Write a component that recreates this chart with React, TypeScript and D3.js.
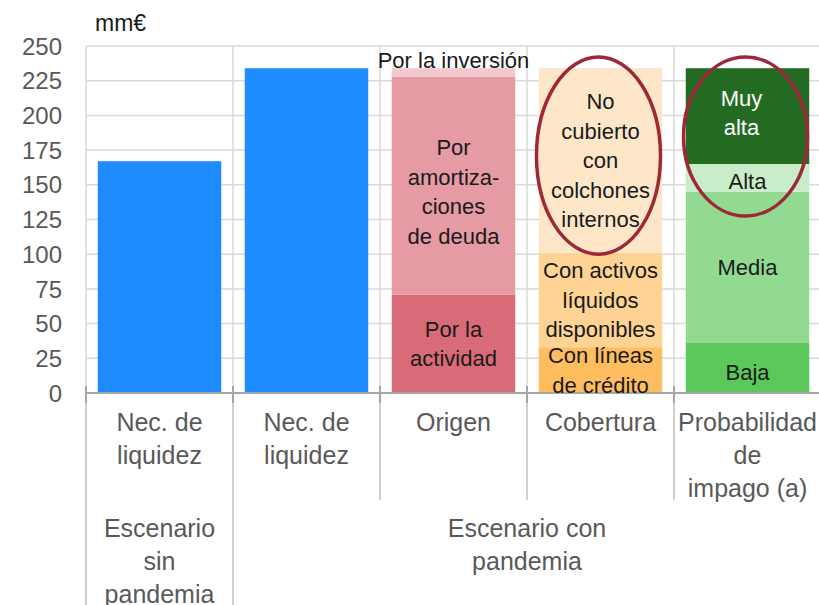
import React from "react";
import * as d3 from "d3";

// ---------- data ----------
const categoryKeys = ["sinPandemia", "conPandemia", "origen", "cobertura", "probabilidad"];
const categoryLabels = [
  ["Nec. de", "liquidez"],
  ["Nec. de", "liquidez"],
  ["Origen"],
  ["Cobertura"],
  ["Probabilidad", "de", "impago (a)"],
];
const necesidadKeys = ["sinPandemia", "conPandemia"];
const necesidadValues = [167, 234];

const origenNames = ["Por la actividad", "Por amortizaciones de deuda", "Por la inversión"];
const origenValues = [71, 157, 6];

const coberturaNames = ["Con líneas de crédito", "Con activos líquidos disponibles", "No cubierto con colchones internos"];
const coberturaValues = [33, 68, 133];

const probabilidadNames = ["Baja", "Media", "Alta", "Muy alta"];
const probabilidadValues = [36, 109, 20, 69];

const groupLabels = [["Escenario", "sin", "pandemia"], ["Escenario con", "pandemia"]];
const yTicks = [0, 25, 50, 75, 100, 125, 150, 175, 200, 225, 250];
const unitLabel = "mm€";

// highlighted ranges (value units) per category
const highlightCats = ["cobertura", "probabilidad"];
const highlightRanges = [[100, 242], [127.5, 242]];

// ---------- styles ----------
const FONT = "'Liberation Sans', Arial, Helvetica, sans-serif";
const BLUE = "#1E8BFF";
const origenColors = ["#D96A78", "#E59AA4", "#F3C8CE"];
const coberturaColors = ["#FEBE5F", "#FED394", "#FEE6C9"];
const probabilidadColors = ["#5AC85A", "#92DA92", "#C9EDC9", "#236B23"];
const origenLines = [["Por la", "actividad"], ["Por", "amortiza-", "ciones", "de deuda"], ["Por la inversión"]];
const coberturaLines = [["Con líneas", "de crédito"], ["Con activos", "líquidos", "disponibles"], ["No", "cubierto", "con", "colchones", "internos"]];
const probabilidadLines = [["Baja"], ["Media"], ["Alta"], ["Muy", "alta"]];

const W = 819;
const H = 605;
const LEFT = 86;
const STEP = 147;
const TOP = 46;
const BOTTOM = 393;

export default function App() {
  const x = d3
    .scaleBand<string>()
    .domain(categoryKeys)
    .range([LEFT, LEFT + STEP * categoryKeys.length])
    .paddingInner(0.16)
    .paddingOuter(0.08);
  const step = x.step();
  const y = d3.scaleLinear().domain([0, 250]).range([BOTTOM, TOP]);

  const bandStart = (k: string) => (x(k) as number) - x.paddingInner() * step / 2;
  const boundaries = d3.range(categoryKeys.length + 1).map((i) => x.range()[0] + i * step);

  const stackOf = (names: string[], values: number[]) => {
    const row: Record<string, number> = {};
    names.forEach((n, i) => (row[n] = values[i]));
    return d3.stack<Record<string, number>>().keys(names)([row]).map((s) => s[0]);
  };

  const stacked = [
    { key: "origen", segs: stackOf(origenNames, origenValues), colors: origenColors, lines: origenLines },
    { key: "cobertura", segs: stackOf(coberturaNames, coberturaValues), colors: coberturaColors, lines: coberturaLines },
    { key: "probabilidad", segs: stackOf(probabilidadNames, probabilidadValues), colors: probabilidadColors, lines: probabilidadLines },
  ];

  const LH = 29.5;
  const labelFont = 22;

  return (
    <svg
      width={W}
      height={H}
      style={{ position: "absolute", left: 0, top: 0, display: "block", background: "#fff" }}
      fontFamily={FONT}
    >
      {/* gridlines */}
      {yTicks.map((t) => (
        <line key={"h" + t} x1={boundaries[0]} x2={boundaries[boundaries.length - 1]} y1={y(t)} y2={y(t)} stroke="#D9D9D9" strokeWidth={1.5} />
      ))}
      {boundaries.map((b, i) => (
        <line key={"v" + i} x1={b} x2={b} y1={y(250)} y2={y(0)} stroke="#D9D9D9" strokeWidth={1.5} />
      ))}
      {/* below-axis dividers */}
      {boundaries.slice(0, 5).map((b, i) => (
        <line key={"vb" + i} x1={b} x2={b} y1={y(0)} y2={i < 2 ? H : 500} stroke="#BFBFBF" strokeWidth={1.5} />
      ))}

      {/* tick labels */}
      {yTicks.map((t) => (
        <text key={"t" + t} x={62} y={y(t)} dy="0.36em" textAnchor="end" fontSize={24} fill="#595959">
          {t}
        </text>
      ))}
      <text x={95} y={31} fontSize={23} fill="#1a1a1a">{unitLabel}</text>

      {/* simple bars */}
      {necesidadKeys.map((k, i) => (
        <rect key={k} x={x(k)} y={y(necesidadValues[i])} width={x.bandwidth()} height={y(0) - y(necesidadValues[i])} fill={BLUE} />
      ))}

      {/* stacked bars */}
      {stacked.map((st) =>
        st.segs.map((s, i) => (
          <rect
            key={st.key + i}
            x={x(st.key)}
            y={y(s[1])}
            width={x.bandwidth()}
            height={y(s[0]) - y(s[1])}
            fill={st.colors[i]}
          />
        ))
      )}

      {/* axis line + ticks */}
      <line x1={boundaries[0]} x2={boundaries[boundaries.length - 1]} y1={y(0)} y2={y(0)} stroke="#A6A6A6" strokeWidth={2} />
      {boundaries.map((b, i) => (
        <line key={"tk" + i} x1={b} x2={b} y1={y(0) - 7} y2={y(0) + 10} stroke="#A6A6A6" strokeWidth={2} />
      ))}

      {/* segment labels */}
      {stacked.map((st) =>
        st.segs.map((s, i) => {
          const lines = st.lines[i];
          let cx = (x(st.key) as number) + x.bandwidth() / 2;
          let cy = (y(s[0]) + y(s[1])) / 2;
          let color = "#1a1a1a";
          if (st.key === "origen" && i === 2) cy = y(s[1]) - 8; // label above thin segment
          if (st.key === "origen" && i === 1) cy = y(145);
          if (st.key === "probabilidad" && i === 3) { color = "#ffffff"; cy = y(202); cx -= 6; }
          if (st.key === "probabilidad" && i === 2) cy = y(153);
          if (st.key === "probabilidad" && i === 0) cy = y(15);
          const y0 = cy - ((lines.length - 1) * LH) / 2;
          return (
            <text key={"l" + st.key + i} x={cx} textAnchor="middle" fontSize={labelFont} fill={color}>
              {lines.map((ln, j) => (
                <tspan key={j} x={cx} y={y0 + j * LH} dy="0.36em">
                  {ln}
                </tspan>
              ))}
            </text>
          );
        })
      )}

      {/* highlight ellipses */}
      {highlightCats.map((k, i) => {
        const cx = (x(k) as number) + x.bandwidth() / 2 - 2;
        const [lo, hi] = highlightRanges[i];
        return (
          <ellipse
            key={"e" + k}
            cx={cx}
            cy={(y(lo) + y(hi)) / 2}
            rx={62}
            ry={(y(lo) - y(hi)) / 2}
            fill="none"
            stroke="#9E2838"
            strokeWidth={3.5}
          />
        );
      })}

      {/* category labels */}
      {categoryKeys.map((k, i) => {
        const cx = bandStart(k) + step / 2;
        return (
          <text key={"c" + k} textAnchor="middle" fontSize={25} fill="#595959">
            {categoryLabels[i].map((ln, j) => (
              <tspan key={j} x={cx} y={422 + j * 33} dy="0.36em">
                {ln}
              </tspan>
            ))}
          </text>
        );
      })}

      {/* group labels */}
      {groupLabels.map((g, i) => {
        const cx = i === 0 ? (boundaries[0] + boundaries[1]) / 2 : (boundaries[1] + boundaries[5]) / 2;
        return (
          <text key={"g" + i} textAnchor="middle" fontSize={25} fill="#595959">
            {g.map((ln, j) => (
              <tspan key={j} x={cx} y={528 + j * 33} dy="0.36em">
                {ln}
              </tspan>
            ))}
          </text>
        );
      })}
    </svg>
  );
}
